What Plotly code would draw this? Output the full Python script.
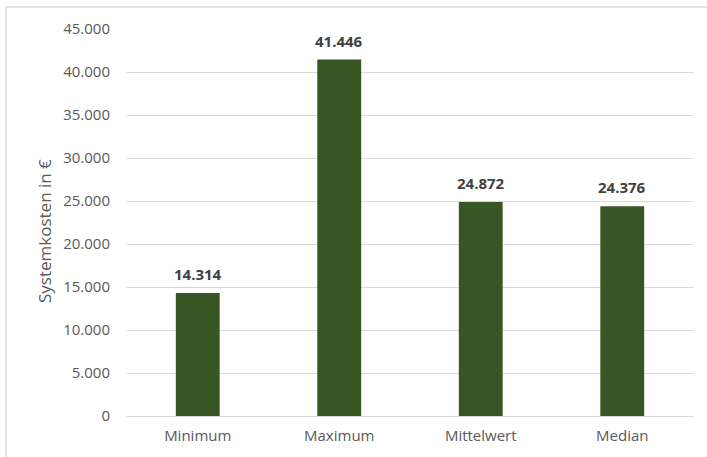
import plotly.graph_objects as go

categories = ["Minimum", "Maximum", "Mittelwert", "Median"]
values = [14314, 41446, 24872, 24376]
y_ticks = [0, 5000, 10000, 15000, 20000, 25000, 30000, 35000, 40000, 45000]

W, H = 707, 457
L, R, T, B = 127, 14, 29, 41
pw, ph = W - L - R, H - T - B
FONT = "Open Sans, Liberation Sans, Arial"

fig = go.Figure(go.Bar(
    x=categories, y=values,
    marker=dict(color="#375623", line=dict(width=0)),
    width=0.31,
    hoverinfo="x+y",
))

for c, v in zip(categories, values):
    fig.add_annotation(
        x=c, y=v, xref="x", yref="y",
        text=f"{v:,}".replace(",", "."),
        showarrow=False, yanchor="bottom", yshift=7,
        font=dict(family=FONT, size=15, color="#404040", weight="bold"),
    )

# axis title
fig.add_annotation(
    x=(44 - L) / pw, y=(H - B - 231) / ph, xref="paper", yref="paper",
    text="Systemkosten in €", textangle=-90, showarrow=False,
    xanchor="center", yanchor="middle",
    font=dict(family=FONT, size=17, color="#595959"),
)

bx0 = (6 - L) / pw
by0 = (H - B - 7) / ph
fig.add_shape(type="line", xref="paper", yref="paper", x0=bx0, x1=(W - L + 5) / pw, y0=by0, y1=by0,
              line=dict(color="#d9d9d9", width=1.5))
fig.add_shape(type="line", xref="paper", yref="paper", x0=bx0, x1=bx0, y0=by0, y1=-(B + 5) / ph,
              line=dict(color="#d9d9d9", width=1.5))

fig.update_layout(
    width=W, height=H,
    margin=dict(l=L, r=R, t=T, b=B),
    paper_bgcolor="white", plot_bgcolor="white",
    separators=",.",
    showlegend=False,
    font=dict(family=FONT, size=15, color="#595959"),
    xaxis=dict(showgrid=False, showline=True, linecolor="#d9d9d9", linewidth=1,
               ticks="", ticklabelstandoff=6, tickfont=dict(size=15, color="#595959")),
    yaxis=dict(range=[0, 45000], tickvals=y_ticks, tickformat=",d",
               showgrid=True, gridcolor="#d9d9d9", gridwidth=1, zeroline=False,
               showline=False, ticks="", ticklabelstandoff=16,
               tickfont=dict(size=15, color="#595959")),
)

fig.write_html("out.html")
